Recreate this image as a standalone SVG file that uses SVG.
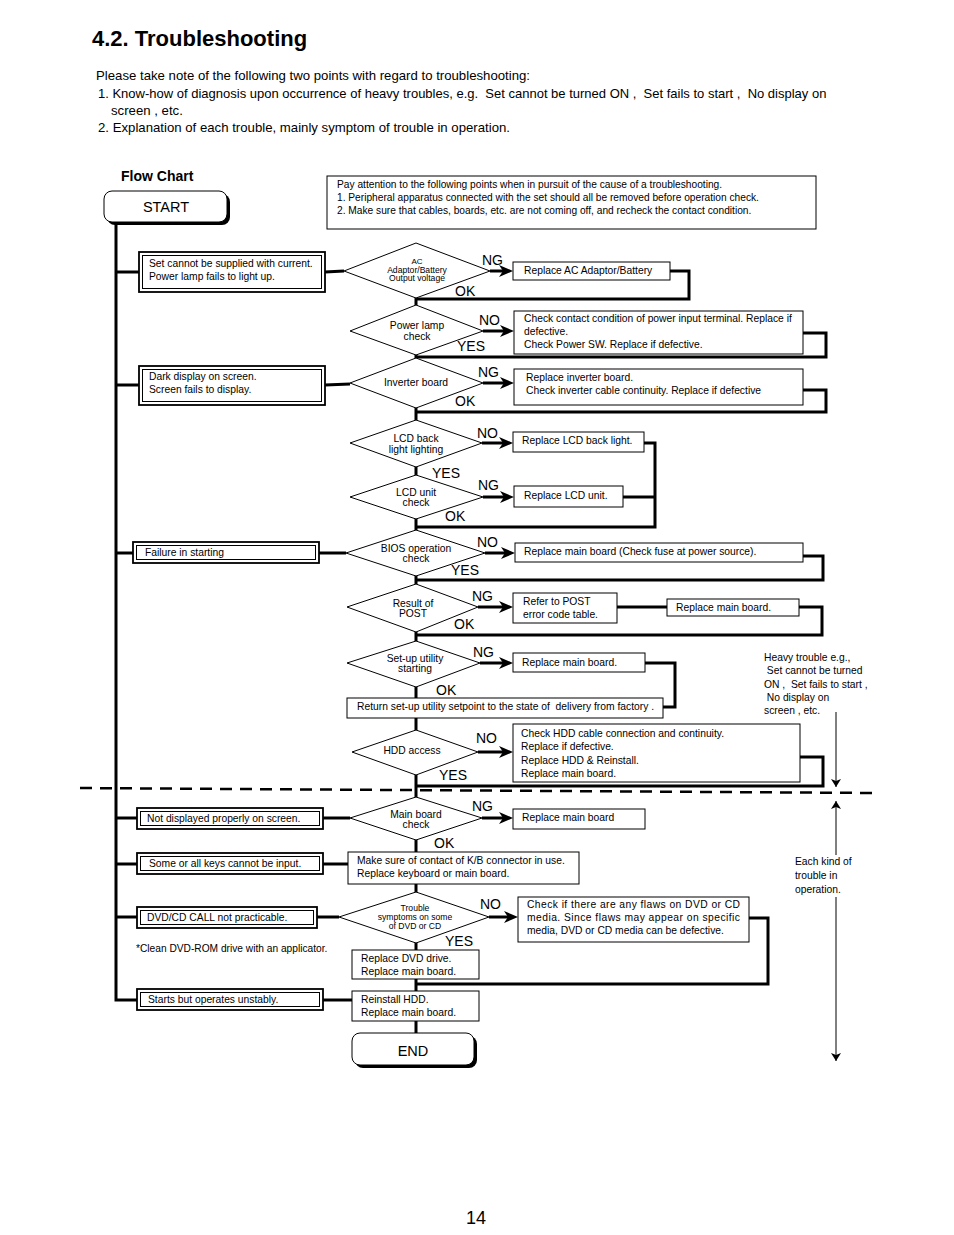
<svg xmlns="http://www.w3.org/2000/svg" width="954" height="1235" viewBox="0 0 954 1235">
<style>
text{font-family:"Liberation Sans",Arial,sans-serif;fill:#000}
.f10{font-size:10.3px}
.f9{font-size:8.6px}
.f13{font-size:13.2px}
.fn{font-size:10.2px}
.lb{font-size:14px}
.c{text-anchor:middle}
.box{fill:#fff;stroke:#000;stroke-width:1}
.out{fill:#fff;stroke:#000;stroke-width:1.8}
.inn{fill:none;stroke:#000;stroke-width:1}
.dia{fill:#fff;stroke:#000;stroke-width:1}
.ln{fill:none;stroke:#000;stroke-width:3}
.ar{fill:none;stroke:#000;stroke-width:3;marker-end:url(#ah)}
.th{fill:none;stroke:#000;stroke-width:1;marker-end:url(#as)}
</style>
<defs>
<marker id="ah" markerUnits="userSpaceOnUse" viewBox="0 0 14 12" markerWidth="14" markerHeight="12" refX="8" refY="6" orient="auto"><path d="M0,0 L14,6 L0,12 L4,6 z" fill="#000"/></marker>
<marker id="as" markerUnits="userSpaceOnUse" viewBox="0 0 8 10" markerWidth="8" markerHeight="10" refX="8" refY="5" orient="auto"><path d="M0,0 L8,5 L0,10 L2,5 z" fill="#000"/></marker>
</defs>
<rect width="954" height="1235" fill="#fff"/>

<g id="header">
<text x="92" y="46" style="font-size:22px;font-weight:bold">4.2. Troubleshooting</text>
<text class="f13" x="96" y="80">Please take note of the following two points with regard to troubleshooting:</text>
<text x="98" y="98" style="font-size:13px" xml:space="preserve">1. Know-how of diagnosis upon occurrence of heavy troubles, e.g.  Set cannot be turned ON ,  Set fails to start ,  No display on</text>
<text class="f13" x="111" y="115">screen , etc.</text>
<text class="f13" x="98" y="132">2. Explanation of each trouble, mainly symptom of trouble in operation.</text>
<text x="121" y="181" style="font-size:14px;font-weight:bold">Flow Chart</text>
</g>

<g id="note">
<rect class="box" x="327" y="176" width="489" height="53"/>
<text class="fn" x="337" y="187.5">Pay attention to the following points when in pursuit of the cause of a troubleshooting.</text>
<text class="fn" x="337" y="200.5">1. Peripheral apparatus connected with the set should all be removed before operation check.</text>
<text class="fn" x="337" y="213.5">2. Make sure that cables, boards, etc. are not coming off, and recheck the contact condition.</text>
</g>

<g id="connectors">
<polyline class="ln" points="116,224 116,1000 137,1000"/>
<line class="ln" x1="116" y1="272" x2="139" y2="272"/>
<line class="ln" x1="116" y1="385" x2="139" y2="385"/>
<line class="ln" x1="116" y1="553" x2="133" y2="553"/>
<line class="ln" x1="116" y1="818" x2="137" y2="818"/>
<line class="ln" x1="116" y1="864" x2="137" y2="864"/>
<line class="ln" x1="116" y1="917" x2="137" y2="917"/>
<line class="ln" x1="325" y1="272" x2="344" y2="271"/>
<line class="ln" x1="325" y1="385" x2="350" y2="384"/>
<line class="ln" x1="319" y1="553" x2="346" y2="553"/>
<line class="ln" x1="323" y1="818" x2="350" y2="818"/>
<line class="ln" x1="323" y1="864" x2="348" y2="864"/>
<line class="ln" x1="317" y1="917" x2="339" y2="917"/>
<line class="ln" x1="323" y1="1000" x2="352" y2="1000"/>
<line class="ln" x1="416" y1="296" x2="416" y2="1035"/>
<polyline class="ln" points="670,271 689,271 689,299 416,299"/>
<polyline class="ln" points="803,333 826,333 826,357 416,357"/>
<polyline class="ln" points="803,390 826,390 826,412 416,412"/>
<polyline class="ln" points="644,443 655,443 655,527 416,527"/>
<line class="ln" x1="623" y1="497" x2="655" y2="497"/>
<polyline class="ln" points="803,556 823,556 823,580 416,580"/>
<line class="ln" x1="617" y1="607" x2="667" y2="607"/>
<polyline class="ln" points="799,607 822,607 822,635 416,635"/>
<polyline class="ln" points="645,663 675,663 675,707 663,707"/>
<polyline class="ln" points="800,757 823,757 823,786 416,786"/>
<polyline class="ln" points="749,918 768,918 768,984 416,984"/>
<line class="ar" x1="490" y1="271" x2="507" y2="271"/>
<line class="ar" x1="483" y1="331" x2="508" y2="331"/>
<line class="ar" x1="483" y1="383" x2="508" y2="383"/>
<line class="ar" x1="482" y1="443" x2="507" y2="443"/>
<line class="ar" x1="483" y1="497" x2="508" y2="497"/>
<line class="ar" x1="485" y1="553" x2="509" y2="553"/>
<line class="ar" x1="478" y1="607" x2="507" y2="607"/>
<line class="ar" x1="480" y1="663" x2="507" y2="663"/>
<line class="ar" x1="478" y1="752" x2="507" y2="752"/>
<line class="ar" x1="482" y1="818" x2="507" y2="818"/>
<line class="ar" x1="489" y1="917" x2="512" y2="917"/>
<line x1="80" y1="788" x2="872" y2="793" stroke="#000" stroke-width="2.5" stroke-dasharray="12 8"/>
<line class="th" x1="836" y1="712" x2="836" y2="787"/>
<line class="th" x1="836" y1="855" x2="836" y2="801"/>
<line class="th" x1="836" y1="897" x2="836" y2="1061"/>
</g>

<g id="start">
<rect x="107" y="194" width="123" height="31" rx="8" fill="#000"/>
<rect x="104" y="191" width="123" height="31" rx="8" fill="#fff" stroke="#000" stroke-width="1"/>
<text class="c" x="166" y="212" style="font-size:14.5px">START</text>
</g>

<g id="sym1">
<rect class="out" x="139" y="252" width="186" height="40"/>
<rect class="inn" x="142.5" y="255.5" width="179" height="33"/>
<text class="f10" x="149" y="266.5">Set cannot be supplied with current.</text>
<text class="f10" x="149" y="279.5">Power lamp fails to light up.</text>
</g>
<g id="sym2">
<rect class="out" x="139" y="366" width="186" height="39"/>
<rect class="inn" x="142.5" y="369.5" width="179" height="32"/>
<text class="f10" x="149" y="379.5">Dark display on screen.</text>
<text class="f10" x="149" y="392.5">Screen fails to display.</text>
</g>
<g id="sym3">
<rect class="out" x="133" y="542" width="186" height="21"/>
<rect class="inn" x="136.5" y="545.5" width="179" height="14"/>
<text class="f10" x="145" y="555.5">Failure in starting</text>
</g>
<g id="sym4">
<rect class="out" x="137" y="808" width="186" height="21"/>
<rect class="inn" x="140.5" y="811.5" width="179" height="14"/>
<text class="f10" x="147" y="821.5">Not displayed properly on screen.</text>
</g>
<g id="sym5">
<rect class="out" x="137" y="853" width="186" height="21"/>
<rect class="inn" x="140.5" y="856.5" width="179" height="14"/>
<text class="f10" x="149" y="866.5">Some or all keys cannot be input.</text>
</g>
<g id="sym6">
<rect class="out" x="137" y="907" width="180" height="21"/>
<rect class="inn" x="140.5" y="910.5" width="173" height="14"/>
<text class="f10" x="147" y="920.5">DVD/CD CALL not practicable.</text>
</g>
<g id="note2">
<text class="fn" x="136" y="951.5">*Clean DVD-ROM drive with an applicator.</text>
</g>
<g id="sym7">
<rect class="out" x="137" y="989" width="186" height="21"/>
<rect class="inn" x="140.5" y="992.5" width="179" height="14"/>
<text class="f10" x="148" y="1002.5">Starts but operates unstably.</text>
</g>

<g id="d1">
<polygon class="dia" points="344,271 416,243 490,271 416,298"/>
<text class="f9 c" x="417" y="264" style="font-size:8px">AC</text>
<text class="f9 c" x="417" y="272.5">Adaptor/Battery</text>
<text class="f9 c" x="417" y="281">Output voltage</text>
</g>
<g id="d2">
<polygon class="dia" points="350,331 416,305 483,331 416,355"/>
<text class="f10 c" x="417" y="328.5">Power lamp</text>
<text class="f10 c" x="417" y="339.5">check</text>
</g>
<g id="d3">
<polygon class="dia" points="350,383 416,358 483,383 416,408"/>
<text class="f10 c" x="416" y="385.5">Inverter board</text>
</g>
<g id="d4">
<polygon class="dia" points="350,443 416,420 482,443 416,467"/>
<text class="f10 c" x="416" y="441.5">LCD back</text>
<text class="f10 c" x="416" y="452.5">light lighting</text>
</g>
<g id="d5">
<polygon class="dia" points="350,497 416,475 483,497 416,519"/>
<text class="f10 c" x="416" y="495.5">LCD unit</text>
<text class="f10 c" x="416" y="505.5">check</text>
</g>
<g id="d6">
<polygon class="dia" points="346,553 416,530 485,553 416,576"/>
<text class="f10 c" x="416" y="551.5">BIOS operation</text>
<text class="f10 c" x="416" y="561.5">check</text>
</g>
<g id="d7">
<polygon class="dia" points="347,607 416,584 478,607 416,632"/>
<text class="f10 c" x="413" y="606.5">Result of</text>
<text class="f10 c" x="413" y="616.5">POST</text>
</g>
<g id="d8">
<polygon class="dia" points="347,663 416,641 480,663 416,687"/>
<text class="f10 c" x="415" y="661.5">Set-up utility</text>
<text class="f10 c" x="415" y="671.5">starting</text>
</g>
<g id="d9">
<polygon class="dia" points="352,752 416,730 478,752 416,775"/>
<text class="f10 c" x="412" y="753.5">HDD access</text>
</g>
<g id="d10">
<polygon class="dia" points="350,818 416,797 482,818 416,840"/>
<text class="f10 c" x="416" y="817.5">Main board</text>
<text class="f10 c" x="416" y="827.5">check</text>
</g>
<g id="d11">
<polygon class="dia" points="339,917 416,892 489,917 416,943"/>
<text class="f9 c" x="415" y="911">Trouble</text>
<text class="f9 c" x="415" y="920">symptoms on some</text>
<text class="f9 c" x="415" y="929">of DVD or CD</text>
</g>

<g id="r1">
<rect class="box" x="513" y="262" width="157" height="18"/>
<text class="f10" x="524" y="273.5">Replace AC Adaptor/Battery</text>
</g>
<g id="r2">
<rect class="box" x="514" y="311" width="289" height="43"/>
<text class="f10" x="524" y="321.5">Check contact condition of power input terminal. Replace if</text>
<text class="f10" x="524" y="334.5">defective.</text>
<text class="f10" x="524" y="347.5">Check Power SW. Replace if defective.</text>
</g>
<g id="r3">
<rect class="box" x="514" y="369" width="289" height="36"/>
<text class="f10" x="526" y="380.5">Replace inverter board.</text>
<text class="f10" x="526" y="393.5">Check inverter cable continuity. Replace if defective</text>
</g>
<g id="r4">
<rect class="box" x="513" y="432" width="131" height="20"/>
<text class="f10" x="522" y="443.5">Replace LCD back light.</text>
</g>
<g id="r5">
<rect class="box" x="514" y="486" width="109" height="21"/>
<text class="f10" x="524" y="498.5">Replace LCD unit.</text>
</g>
<g id="r6">
<rect class="box" x="515" y="543" width="288" height="19"/>
<text class="f10" x="524" y="554.5">Replace main board (Check fuse at power source).</text>
</g>
<g id="r7">
<rect class="box" x="513" y="593" width="104" height="30"/>
<text class="f10" x="523" y="604.5">Refer to POST</text>
<text class="f10" x="523" y="617.5">error code table.</text>
</g>
<g id="r7b">
<rect class="box" x="667" y="599" width="132" height="17"/>
<text class="f10" x="676" y="610.5">Replace main board.</text>
</g>
<g id="r8">
<rect class="box" x="513" y="653" width="132" height="19"/>
<text class="f10" x="522" y="665.5">Replace main board.</text>
</g>
<g id="r8b">
<rect class="box" x="347" y="698" width="316" height="20"/>
<text class="f10" x="357" y="709.5" xml:space="preserve">Return set-up utility setpoint to the state of  delivery from factory .</text>
</g>
<g id="r9">
<rect class="box" x="513" y="724" width="287" height="58"/>
<text class="f10" x="521" y="736.5">Check HDD cable connection and continuity.</text>
<text class="f10" x="521" y="749.5">Replace if defective.</text>
<text class="f10" x="521" y="763.5">Replace HDD &amp; Reinstall.</text>
<text class="f10" x="521" y="776.5">Replace main board.</text>
</g>
<g id="r10">
<rect class="box" x="513" y="809" width="132" height="20"/>
<text class="f10" x="522" y="820.5">Replace main board</text>
</g>
<g id="r10b">
<rect class="box" x="348" y="852" width="231" height="32"/>
<text class="f10" x="357" y="863.5">Make sure of contact of K/B connector in use.</text>
<text class="f10" x="357" y="876.5">Replace keyboard or main board.</text>
</g>
<g id="r11">
<rect class="box" x="518" y="897" width="231" height="45"/>
<text class="f10" x="527" y="907.5" textLength="213" lengthAdjust="spacing">Check if there are any flaws on DVD or CD</text>
<text class="f10" x="527" y="920.5" textLength="213" lengthAdjust="spacing">media. Since flaws may appear on specific</text>
<text class="f10" x="527" y="933.5">media, DVD or CD media can be defective.</text>
</g>
<g id="r11b">
<rect class="box" x="352" y="950" width="127" height="29"/>
<text class="f10" x="361" y="961.5">Replace DVD drive.</text>
<text class="f10" x="361" y="974.5">Replace main board.</text>
</g>
<g id="r12">
<rect class="box" x="352" y="991" width="127" height="30"/>
<text class="f10" x="361" y="1002.5">Reinstall HDD.</text>
<text class="f10" x="361" y="1015.5">Replace main board.</text>
</g>

<g id="end">
<rect x="355" y="1036" width="122" height="32" rx="8" fill="#000"/>
<rect x="352" y="1033" width="122" height="32" rx="8" fill="#fff" stroke="#000" stroke-width="1"/>
<text class="c" x="413" y="1056" style="font-size:14.5px">END</text>
</g>

<g id="labels">
<text class="lb" x="482" y="265">NG</text>
<text class="lb" x="455" y="296">OK</text>
<text class="lb" x="479" y="325">NO</text>
<text class="lb" x="457" y="351">YES</text>
<text class="lb" x="478" y="377">NG</text>
<text class="lb" x="455" y="406">OK</text>
<text class="lb" x="477" y="438">NO</text>
<text class="lb" x="432" y="478">YES</text>
<text class="lb" x="478" y="490">NG</text>
<text class="lb" x="445" y="521">OK</text>
<text class="lb" x="477" y="547">NO</text>
<text class="lb" x="451" y="575">YES</text>
<text class="lb" x="472" y="601">NG</text>
<text class="lb" x="454" y="629">OK</text>
<text class="lb" x="473" y="657">NG</text>
<text class="lb" x="436" y="695">OK</text>
<text class="lb" x="476" y="743">NO</text>
<text class="lb" x="439" y="780">YES</text>
<text class="lb" x="472" y="811">NG</text>
<text class="lb" x="434" y="848">OK</text>
<text class="lb" x="480" y="909">NO</text>
<text class="lb" x="445" y="946">YES</text>
</g>

<g id="annot">
<text class="f10" x="764" y="661">Heavy trouble e.g.,</text>
<text class="f10" x="764" y="674" xml:space="preserve"> Set cannot be turned</text>
<text class="f10" x="764" y="688" xml:space="preserve">ON ,  Set fails to start ,</text>
<text class="f10" x="764" y="701" xml:space="preserve"> No display on</text>
<text class="f10" x="764" y="714">screen , etc.</text>
<text class="f10" x="795" y="865">Each kind of</text>
<text class="f10" x="795" y="879">trouble in</text>
<text class="f10" x="795" y="893">operation.</text>
</g>

<text x="466" y="1224" style="font-size:18px">14</text>
</svg>
